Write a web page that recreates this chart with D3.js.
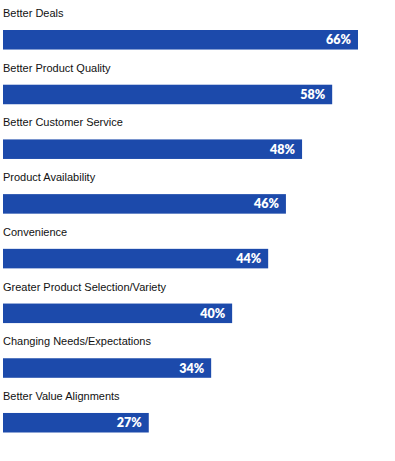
<!DOCTYPE html>
<html>
<head>
<meta charset="utf-8">
<script src="https://d3js.org/d3.v7.min.js"></script>
<style>
  body { margin: 0; background: #fff; }
  .cat { font-family: "Liberation Sans", Arial, sans-serif; font-size: 11px; fill: #111; }
  .val { font-family: Lato, "Open Sans", sans-serif; font-weight: 800; font-size: 12.5px; fill: #fff; }
</style>
</head>
<body>
<svg width="395" height="461"></svg>
<script>
// reasons and the percentages printed on the bars
var categories = ["Better Deals", "Better Product Quality", "Better Customer Service",
  "Product Availability", "Convenience", "Greater Product Selection/Variety",
  "Changing Needs/Expectations", "Better Value Alignments"];
var values = [66, 58, 48, 46, 44, 40, 34, 27];
// drawn bar lengths (in % units) as they appear in the picture - not strictly proportional
var barLengths = [66, 61.2, 55.6, 52.6, 49.3, 42.6, 38.7, 27.1];

var svg = d3.select("svg");
var color = "#1c4aab";

var x = d3.scaleLinear().domain([0, 66]).range([3, 358]);
var y = d3.scaleBand().domain(categories).range([30, 432.5]).paddingInner(0.643).paddingOuter(0);

var g = svg.selectAll(".row")
  .data(categories)
  .enter().append("g")
  .attr("class", "row");

// category label above each bar
g.append("text")
  .attr("class", "cat")
  .attr("x", 3)
  .attr("y", function(d) { return y(d) - 13; })
  .text(function(d) { return d; });

g.append("rect")
  .attr("x", x(0))
  .attr("y", function(d) { return y(d); })
  .attr("height", y.bandwidth())
  .attr("width", function(d, i) { return x(barLengths[i]) - x(0); })
  .attr("fill", color);

// value label inside the bar end
g.append("text")
  .attr("class", "val")
  .attr("x", function(d, i) { return x(barLengths[i]) - 7; })
  .attr("y", function(d) { return y(d) + y.bandwidth() / 2; })
  .attr("dy", "0.36em")
  .attr("text-anchor", "end")
  .text(function(d, i) { return values[i] + "%"; });
</script>
</body>
</html>
